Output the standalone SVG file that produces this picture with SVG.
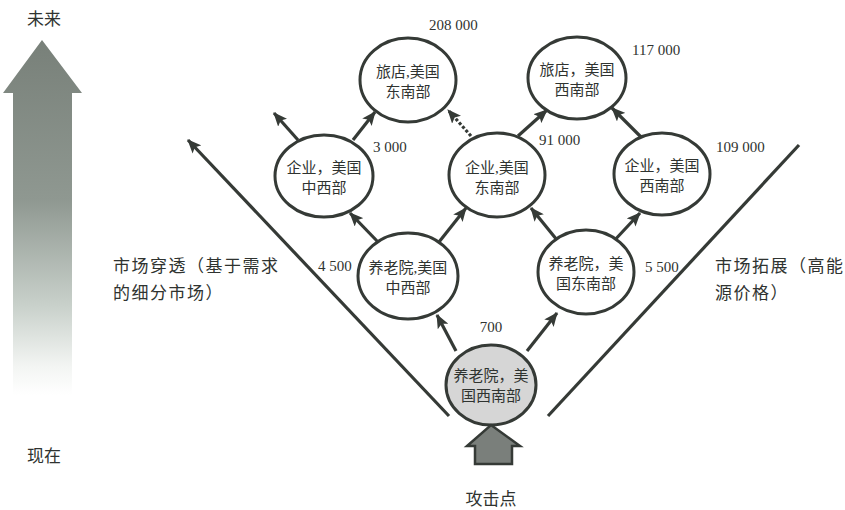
<svg xmlns="http://www.w3.org/2000/svg" width="845" height="510" viewBox="0 0 845 510">
<defs>
<style>
.n{fill:#fff;stroke:#353a36;stroke-width:3}
.t{font-family:"Liberation Serif","Noto Sans CJK SC",serif;font-size:15px;fill:#2f3330;text-anchor:middle}
.v{font-family:"Liberation Serif","Noto Sans CJK SC",serif;font-size:15px;fill:#2f3330}
.l{font-family:"Liberation Serif","Noto Sans CJK SC",serif;font-size:17px;fill:#2f3330}
.w{letter-spacing:1.5px}
.e{stroke:#353a36;stroke-width:3.2;fill:none;marker-end:url(#ah)}
</style>
<marker id="ah" markerUnits="userSpaceOnUse" markerWidth="14" markerHeight="12" viewBox="0 0 14 12" refX="13" refY="6" orient="auto">
<path d="M0,0 L14,6 L0,12 L3,6 Z" fill="#353a36"/>
</marker>
<linearGradient id="g" x1="0" y1="0" x2="0" y2="1">
<stop offset="0" stop-color="#788079"/>
<stop offset="0.45" stop-color="#8f9891"/>
<stop offset="0.75" stop-color="#c9d1cb"/>
<stop offset="0.92" stop-color="#f3f5f3"/>
<stop offset="1" stop-color="#ffffff"/>
</linearGradient>
</defs>
<rect width="845" height="510" fill="#fff"/>

<g id="timeline">
<path d="M42,40 L82,93 L72,93 L72,395 L13,395 L13,93 L3,93 Z" fill="url(#g)"/>
<text class="l" x="44" y="25" text-anchor="middle">未来</text>
<text class="l" x="44" y="462" text-anchor="middle">现在</text>
</g>

<g id="connectors">
<line class="e" x1="449" y1="416" x2="188" y2="140"/>
<line x1="548" y1="416" x2="799" y2="145" stroke="#353a36" stroke-width="3.2"/>
<line class="e" x1="456" y1="351" x2="437" y2="315"/>
<line class="e" x1="527" y1="351" x2="557" y2="313"/>
<line class="e" x1="378" y1="242" x2="350" y2="213"/>
<line class="e" x1="439" y1="242" x2="466" y2="208"/>
<line class="e" x1="557" y1="240" x2="531" y2="208"/>
<line class="e" x1="612" y1="243" x2="640" y2="213"/>
<line class="e" x1="298" y1="140" x2="274" y2="113"/>
<line class="e" x1="353" y1="140" x2="375" y2="112"/>
<line class="e" x1="471" y1="136" x2="448" y2="110" stroke-dasharray="3 2"/>
<line class="e" x1="518" y1="136" x2="547" y2="110"/>
<line class="e" x1="642" y1="138" x2="612" y2="108"/>
</g>

<g id="n-hotel-se">
<ellipse class="n" cx="408" cy="80" rx="48" ry="42"/>
<text class="t" x="408" y="77">旅店,美国</text>
<text class="t" x="408" y="97">东南部</text>
<text class="v" x="429" y="30">208 000</text>
</g>
<g id="n-hotel-sw">
<ellipse class="n" cx="577" cy="78" rx="49" ry="41"/>
<text class="t" x="577" y="75">旅店，美国</text>
<text class="t" x="577" y="95">西南部</text>
<text class="v" x="632" y="55">117 000</text>
</g>
<g id="n-corp-mw">
<ellipse class="n" cx="324" cy="176" rx="49" ry="41"/>
<text class="t" x="324" y="173">企业，美国</text>
<text class="t" x="324" y="193">中西部</text>
<text class="v" x="373" y="152">3 000</text>
</g>
<g id="n-corp-se">
<ellipse class="n" cx="497" cy="175" rx="48" ry="42"/>
<text class="t" x="497" y="173">企业,美国</text>
<text class="t" x="497" y="193">东南部</text>
<text class="v" x="539" y="145">91 000</text>
</g>
<g id="n-corp-sw">
<ellipse class="n" cx="662" cy="174" rx="48" ry="41"/>
<text class="t" x="662" y="171">企业，美国</text>
<text class="t" x="662" y="191">西南部</text>
<text class="v" x="716" y="152">109 000</text>
</g>
<g id="n-nursing-mw">
<ellipse class="n" cx="408" cy="276" rx="50" ry="43"/>
<text class="t" x="408" y="273">养老院,美国</text>
<text class="t" x="408" y="293">中西部</text>
<text class="v" x="318" y="271">4 500</text>
</g>
<g id="n-nursing-se">
<ellipse class="n" cx="586" cy="272" rx="48" ry="42"/>
<text class="t" x="586" y="269">养老院，美</text>
<text class="t" x="586" y="289">国东南部</text>
<text class="v" x="645" y="272">5 500</text>
</g>
<g id="n-nursing-sw">
<ellipse class="n" cx="491" cy="385" rx="45" ry="40" style="fill:#d6d6d6"/>
<text class="t" x="491" y="381">养老院，美</text>
<text class="t" x="491" y="401">国西南部</text>
<text class="v" x="491" y="332" text-anchor="middle">700</text>
</g>

<g id="attack">
<path d="M491,425 L520,446 L512,446 L512,464 L475,464 L475,446 L467,446 Z" fill="#7a7f7b" stroke="#353a36" stroke-width="2.5" stroke-linejoin="miter"/>
<text class="l" x="491" y="505" text-anchor="middle">攻击点</text>
</g>

<g id="labels">
<text class="l w" x="113" y="272">市场穿透（基于需求</text>
<text class="l w" x="113" y="299">的细分市场）</text>
<text class="l w" x="715" y="272">市场拓展（高能</text>
<text class="l w" x="715" y="299">源价格）</text>
</g>
</svg>
